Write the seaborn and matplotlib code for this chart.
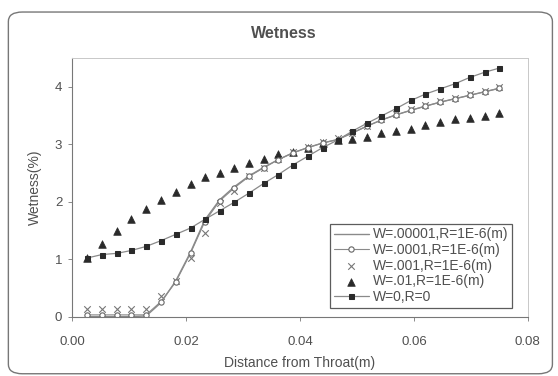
import numpy as np
import pandas as pd
import seaborn as sns
import matplotlib.pyplot as plt
from matplotlib.patches import FancyBboxPatch

# distance from throat (m)
distance = [0.0027, 0.0053, 0.0079, 0.0104, 0.0130, 0.0156, 0.0182, 0.0208,
            0.0233, 0.0259, 0.0285, 0.0311, 0.0337, 0.0362, 0.0388, 0.0414,
            0.0440, 0.0466, 0.0491, 0.0517, 0.0543, 0.0569, 0.0595, 0.0620,
            0.0646, 0.0672, 0.0698, 0.0724, 0.0749]

# wetness (%) per case
w_00001 = [0.00, 0.00, 0.00, 0.00, 0.01, 0.24, 0.62, 1.12, 1.68, 2.03,
           2.26, 2.45, 2.60, 2.73, 2.85, 2.94, 3.02, 3.08, 3.19, 3.31,
           3.42, 3.51, 3.59, 3.66, 3.73, 3.79, 3.85, 3.91, 3.97]
w_0001 = [0.03, 0.03, 0.03, 0.03, 0.03, 0.26, 0.60, 1.10, 1.65, 2.01,
          2.24, 2.44, 2.59, 2.73, 2.85, 2.94, 3.02, 3.08, 3.19, 3.31,
          3.42, 3.51, 3.59, 3.66, 3.73, 3.79, 3.85, 3.91, 3.97]
w_001 = [0.13, 0.13, 0.13, 0.13, 0.14, 0.35, 0.62, 1.02, 1.45, 1.98,
         2.18, 2.44, 2.59, 2.74, 2.86, 2.95, 3.03, 3.10, 3.20, 3.32,
         3.44, 3.53, 3.61, 3.68, 3.75, 3.81, 3.87, 3.93, 3.99]
w_01 = [1.02, 1.27, 1.49, 1.70, 1.87, 2.02, 2.16, 2.31, 2.42, 2.50,
        2.59, 2.68, 2.74, 2.82, 2.87, 2.94, 3.02, 3.07, 3.09, 3.13,
        3.19, 3.23, 3.27, 3.34, 3.39, 3.43, 3.46, 3.49, 3.54]
w_0 = [1.02, 1.08, 1.10, 1.15, 1.22, 1.32, 1.43, 1.54, 1.69, 1.84,
       1.99, 2.15, 2.32, 2.47, 2.64, 2.79, 2.94, 3.07, 3.22, 3.36,
       3.49, 3.62, 3.76, 3.87, 3.96, 4.05, 4.16, 4.25, 4.32]

labels = ["W=.00001,R=1E-6(m)", "W=.0001,R=1E-6(m)", "W=.001,R=1E-6(m)",
          "W=.01,R=1E-6(m)", "W=0,R=0"]

sns.set_style("white")
plt.rcParams['font.family'] = ['Liberation Sans', 'DejaVu Sans']

fig = plt.figure(figsize=(5.58, 3.76), dpi=100)
ax = fig.add_axes([0.129, 0.158, 0.817, 0.688])

line_c = "#8a8a8a"
mark_c = "#2a2a2a"
text_c = "#505050"

sns.lineplot(x=distance, y=w_00001, ax=ax, color=line_c, lw=1.0,
             label=labels[0])
sns.lineplot(x=distance, y=w_0001, ax=ax, color=line_c, lw=0.8,
             marker="o", markersize=3.8, markerfacecolor="white",
             markeredgecolor="#666666", markeredgewidth=0.8, label=labels[1])
sns.scatterplot(x=distance, y=w_001, ax=ax, marker="x", s=22,
                color="#777777", linewidth=0.8, label=labels[2])
sns.scatterplot(x=distance, y=w_01, ax=ax, marker="^", s=30,
                color=mark_c, edgecolor=mark_c, linewidth=0.5, label=labels[3])
sns.lineplot(x=distance, y=w_0, ax=ax, color=line_c, lw=0.9,
             marker="s", markersize=3.6, markerfacecolor=mark_c,
             markeredgecolor=mark_c, label=labels[4])

ax.set_xlim(0, 0.08)
ax.set_ylim(0, 4.5)
ax.set_xticks([0.0, 0.02, 0.04, 0.06, 0.08])
ax.set_xticklabels(["0.00", "0.02", "0.04", "0.06", "0.08"])
ax.set_yticks([0, 1, 2, 3, 4])
ax.tick_params(axis="both", labelsize=9.5, labelcolor=text_c,
               colors="#777777", direction="out", length=3, width=0.6,
               bottom=True, left=True)
ax.tick_params(axis="x", pad=11)
ax.tick_params(axis="y", pad=4)
for side in ["left", "bottom"]:
    ax.spines[side].set_color("#777777")
    ax.spines[side].set_linewidth(0.8)
for side in ["top", "right"]:
    ax.spines[side].set_color("#c8c8c8")
    ax.spines[side].set_linewidth(0.7)

ax.set_xlabel("Distance from Throat(m)", fontsize=10, color=text_c,
              labelpad=6)
ax.set_ylabel("Wetness(%)", fontsize=10, color=text_c, labelpad=9)
fig.text(0.508, 0.912, "Wetness", ha="center", va="center",
         fontsize=11.5, fontweight="bold", color=text_c)

leg = ax.legend(loc="lower right", bbox_to_anchor=(0.966, 0.035),
                fontsize=10, frameon=True, fancybox=False,
                handlelength=2.5, handletextpad=0.35, borderpad=0.25,
                labelspacing=0.12, borderaxespad=0)
leg.get_frame().set_edgecolor("#333333")
leg.get_frame().set_linewidth(0.9)
for t in leg.get_texts():
    t.set_color(text_c)

# rounded chart frame
frame = FancyBboxPatch((0.015, 0.006), 0.975, 0.962,
                       boxstyle="round,pad=0,rounding_size=0.025",
                       transform=fig.transFigure, fill=False,
                       edgecolor="#777777", linewidth=1.0)
fig.patches.append(frame)

fig.savefig("out.png", dpi=100)
